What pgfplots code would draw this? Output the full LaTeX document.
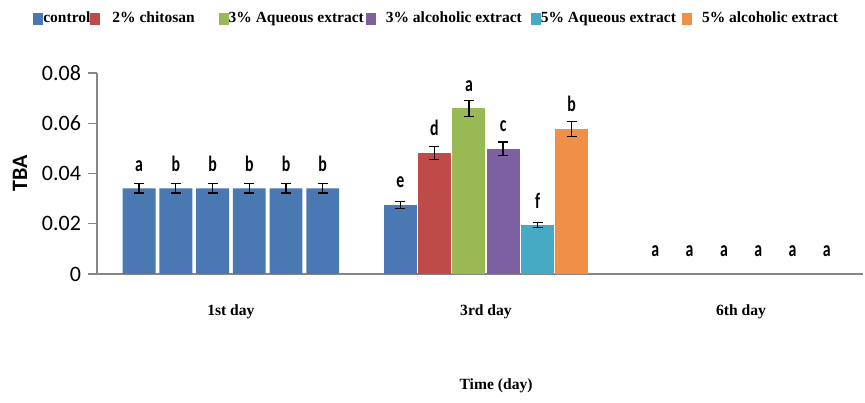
\documentclass[border=0pt]{standalone}
\usepackage{fontspec}
\setmainfont{Liberation Serif}
\newfontfamily\carlito{Carlito}
\newfontfamily\lett[FakeStretch=0.72]{Carlito}
\usepackage{pgfplots}
\pgfplotsset{compat=1.18}
\usetikzlibrary{calc}

\definecolor{cblue}{HTML}{4A78B3}
\definecolor{cred}{HTML}{BE4B48}
\definecolor{cgreen}{HTML}{98B954}
\definecolor{cpurple}{HTML}{7D60A0}
\definecolor{caqua}{HTML}{46AAC5}
\definecolor{corange}{HTML}{F08F46}
\definecolor{axgray}{HTML}{868686}

\newcommand{\gap}[1]{\kern#1\relax}

\pgfplotsset{
  mybar/.style={ybar, bar shift=0pt, bar width=0.13, draw=none, fill=#1,
    legend image code/.code={\fill[##1] (0pt,-3pt) rectangle (5pt,3pt);},
    error bars/y dir=both, error bars/y explicit},
}

% day 1: all treatments, drawn in one colour
\pgfplotstableread{
x y e l
-0.360 0.0341 0.0019 a
-0.216 0.0341 0.0019 b
-0.072 0.0341 0.0019 b
0.072 0.0341 0.0019 b
0.216 0.0341 0.0019 b
0.360 0.0341 0.0019 b
}\dayone

% day 6: no bars, letters only
\pgfplotstableread{
x y l
1.664 0 a
1.798 0 a
1.933 0 a
2.067 0 a
2.202 0 a
2.336 0 a
}\daysix

\begin{document}
\begin{tikzpicture}
\begin{axis}[
  scale only axis,
  width=383pt, height=100.5pt,
  xmin=-0.525, xmax=2.478,
  ymin=0, ymax=0.08,
  enlargelimits=false,
  axis lines=left,
  axis line style={draw=axgray, -, line width=0.6pt},
  xtick={0,1,2},
  xticklabels={1st day,3rd day,6th day},
  xtick style={draw=none},
  xticklabel style={font=\bfseries\fontsize{7.8}{9}\selectfont, yshift=-7.5pt},
  ytick={0,0.02,0.04,0.06,0.08},
  yticklabels={0,0.02,0.04,0.06,0.08},
  scaled y ticks=false,
  ytick style={draw=axgray, line width=0.6pt},
  tick align=outside,
  major tick length=4.5pt,
  yticklabel style={font=\carlito\fontsize{11}{13}\selectfont},
  /pgf/number format/assume math mode=true,
  ylabel={TBA},
  ylabel style={font=\carlito\bfseries\fontsize{11}{13}\selectfont,
    at={(axis description cs:-0.1005,0.5)}, anchor=center},
  xlabel={Time (day)},
  xlabel style={font=\bfseries\fontsize{7.8}{9}\selectfont,
    at={(axis description cs:0.521,-0.558)}, anchor=center},
  nodes near coords,
  point meta=explicit symbolic,
  nodes near coords style={font=\lett\bfseries\fontsize{11}{13}\selectfont,
    text=black, anchor=base, yshift=8.5pt},
  error bars/error bar style={black, line width=0.6pt},
  error bars/error mark options={black, mark size=2.5pt, line width=0.6pt, rotate=90},
  legend columns=6,
  legend style={draw=none, fill=none, inner sep=0pt,
    at={(axis description cs:-0.0836,1.27)}, anchor=west,
    font=\bfseries\fontsize{7.75}{9}\selectfont,
    nodes={inner sep=0pt},
    /tikz/every even column/.append style={column sep=0pt},
    /tikz/every odd column/.append style={column sep=0pt}},
  clip=false,
]
\addplot[mybar=cblue] table[x=x, y=y, y error=e, meta=l] {
x y e l
0.664 0.0275 0.0014 e
};
\addlegendentry{control}
\addplot[mybar=cred] table[x=x, y=y, y error=e, meta=l] {
x y e l
0.798 0.0483 0.0026 d
};
\addlegendentry{\gap{6pt}2\% chitosan\gap{12pt}}
\addplot[mybar=cgreen] table[x=x, y=y, y error=e, meta=l] {
x y e l
0.933 0.0660 0.0032 a
};
\addlegendentry{3\% Aqueous extract\gap{1pt}}
\addplot[mybar=cpurple] table[x=x, y=y, y error=e, meta=l] {
x y e l
1.067 0.0499 0.0026 c
};
\addlegendentry{\gap{5pt}3\% alcoholic extract\gap{4.5pt}}
\addplot[mybar=caqua] table[x=x, y=y, y error=e, meta=l] {
x y e l
1.202 0.0195 0.0009 f
};
\addlegendentry{5\% Aqueous extract\gap{3pt}}
\addplot[mybar=corange] table[x=x, y=y, y error=e, meta=l] {
x y e l
1.336 0.0578 0.0030 b
};
\addlegendentry{\gap{5pt}5\% alcoholic extract}

\addplot[mybar=cblue, bar width=0.129, forget plot]
  table[x=x, y=y, y error=e, meta=l] {\dayone};
\addplot[draw=none, mark=none, forget plot]
  table[x=x, y=y, meta=l] {\daysix};
\end{axis}
\path ($(current axis.south west)+(-48.5pt,-64.5pt)$) rectangle
      ($(current axis.north east)+(1pt,36.5pt)$);
\end{tikzpicture}
\end{document}
